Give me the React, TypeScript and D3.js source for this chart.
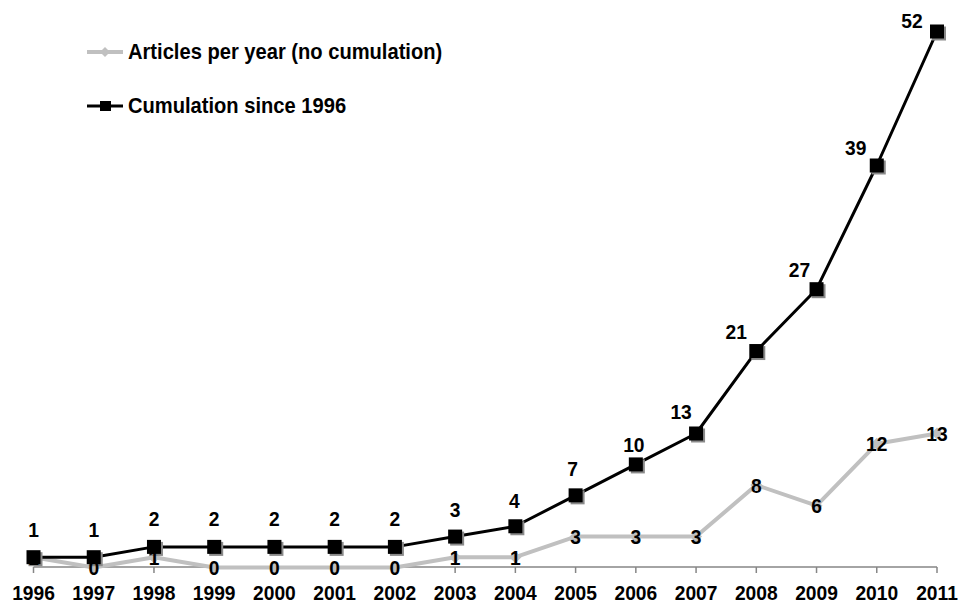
import React from "react";
import * as d3 from "d3";

const years = ["1996","1997","1998","1999","2000","2001","2002","2003","2004","2005","2006","2007","2008","2009","2010","2011"];
const perYear = [1,0,1,0,0,0,0,1,1,3,3,3,8,6,12,13];
const cumulative = [1,1,2,2,2,2,2,3,4,7,10,13,21,27,39,52];
const seriesNames = ["Articles per year (no cumulation)", "Cumulation since 1996"];

// label placement for the cumulative series (offset of label centre from marker)
const cumLabelOffsets: [number, number][] = [
  [0,-28],[0,-28],[0,-28],[0,-28],[0,-28],[0,-28],[0,-28],[0,-27],
  [-1,-26],[-3,-27],[-2,-20],[-15,-22],[-20,-20],[-17,-20],[-21,-18],[-25,-11],
];

const W = 958, H = 603;
const FONT = "'Liberation Sans', Arial, sans-serif";
const GRAY = "#c0c0c0";
const SIZE = 21;
const SQUEEZE = 0.915;
const capMid = SIZE * 0.358;

type LabelProps = { x: number; y: number; size?: number; anchor?: "start" | "middle" | "end"; children: React.ReactNode };

// bold label with a slight horizontal condensing
function Label({ x, y, size = SIZE, anchor = "middle", children }: LabelProps) {
  return (
    <text transform={`translate(${x},${y}) scale(${SQUEEZE},1)`} textAnchor={anchor}
      fontFamily={FONT} fontWeight="bold" fontSize={size} fill="#000">{children}</text>
  );
}

export default function App() {
  const x = d3.scalePoint<string>().domain(years).range([33.5, 937]);
  const y = d3.scaleLinear().domain([0, 52]).range([567.5, 31.5]);

  const line = d3.line<number>()
    .x((_, i) => x(years[i]) as number)
    .y((d) => y(d));

  const diamond = (cx: number, cy: number, r: number) =>
    `M${cx},${cy - r}L${cx + r},${cy}L${cx},${cy + r}L${cx - r},${cy}Z`;

  const axisY = 567;

  return (
    <svg width={W} height={H} style={{ position: "absolute", left: 0, top: 0, background: "#fff" }}>
      {/* category axis */}
      <line x1={x(years[0])} x2={x(years[years.length - 1])} y1={axisY} y2={axisY} stroke="#868686" strokeWidth={1.5} />
      {years.map((yr) => (
        <line key={"t" + yr} x1={x(yr)} x2={x(yr)} y1={axisY} y2={axisY + 6} stroke="#868686" strokeWidth={1.5} />
      ))}
      {years.map((yr) => (
        <Label key={"l" + yr} x={x(yr) as number} y={600}>{yr}</Label>
      ))}

      {/* articles per year */}
      <path d={line(perYear) || ""} fill="none" stroke={GRAY} strokeWidth={4} strokeLinejoin="round" />
      {perYear.map((v, i) => {
        const cx = x(years[i]) as number, cy = y(v);
        return <path key={"gd" + i} d={diamond(cx, cy, 6)} fill={GRAY} />;
      })}

      {/* cumulation */}
      <path d={line(cumulative) || ""} fill="none" stroke="#000" strokeWidth={3} strokeLinejoin="round" />
      {cumulative.map((v, i) => {
        const cx = x(years[i]) as number, cy = y(v);
        return (
          <g key={"bm" + i}>
            <rect x={cx - 7 + 2} y={cy - 7 + 2} width={14} height={14} fill="#8a8a8a" />
            <rect x={cx - 7} y={cy - 7} width={14} height={14} fill="#000" />
          </g>
        );
      })}

      {/* per-year value labels, centred on points */}
      {perYear.map((v, i) => (
        <Label key={"gv" + i} x={x(years[i]) as number} y={y(v) + capMid}>{v}</Label>
      ))}

      {/* cumulative value labels */}
      {cumulative.map((v, i) => {
        const [dx, dy] = cumLabelOffsets[i];
        return (
          <Label key={"bv" + i} x={(x(years[i]) as number) + dx} y={y(v) + dy + capMid}>{v}</Label>
        );
      })}

      {/* legend */}
      <g>
        <line x1={87} x2={123} y1={52} y2={52} stroke={GRAY} strokeWidth={4} />
        <path d={diamond(105, 52, 5)} fill={GRAY} />
        <Label x={128} y={58.5} size={22} anchor="start">{seriesNames[0]}</Label>

        <line x1={87} x2={123} y1={106} y2={106} stroke="#000" strokeWidth={3} />
        <rect x={100} y={101} width={11} height={10} fill="#000" />
        <Label x={128} y={112.5} size={22} anchor="start">{seriesNames[1]}</Label>
      </g>
    </svg>
  );
}
